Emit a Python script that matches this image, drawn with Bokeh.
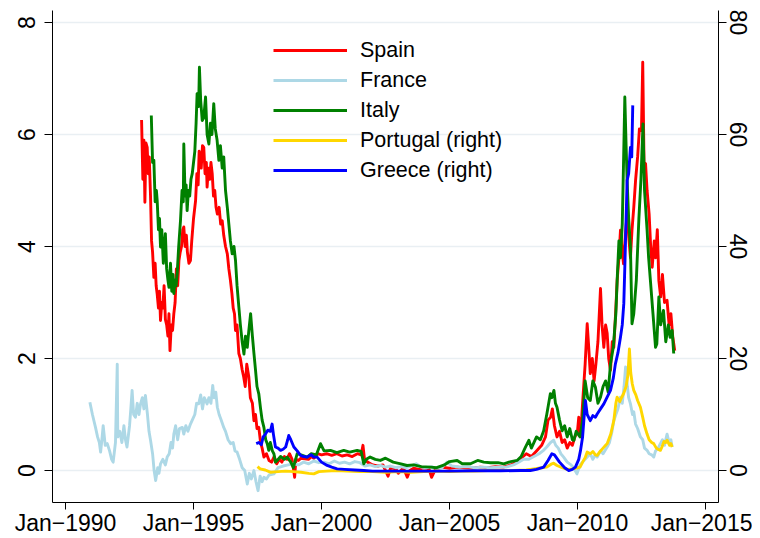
from bokeh.plotting import figure
from bokeh.models import Range1d, LinearAxis, FixedTicker, Legend, LegendItem, ColumnDataSource
from bokeh.embed import file_html
from bokeh.resources import INLINE

# ---- data (decimal years, values) ----
spain_t = [1992.97,1993.02,1993.06,1993.10,1993.14,1993.19,1993.23,1993.27,1993.32,1993.36,1993.40,1993.45,1993.50,1993.54,1993.58,1993.63,1993.67,1993.71,1993.76,1993.80,1993.85,1993.90,1993.95,1994.00,1994.04,1994.08,1994.13,1994.18,1994.23,1994.28,1994.33,1994.38,1994.43,1994.48,1994.53,1994.58,1994.62,1994.67,1994.72,1994.76,1994.82,1994.88,1994.93,1995.00,1995.08,1995.13,1995.18,1995.22,1995.25,1995.30,1995.35,1995.40,1995.45,1995.50,1995.53,1995.58,1995.63,1995.68,1995.73,1995.78,1995.83,1995.88,1995.93,1996.00,1996.06,1996.12,1996.18,1996.25,1996.32,1996.38,1996.44,1996.50,1996.55,1996.60,1996.64,1996.70,1996.77,1996.83,1996.90,1996.96,1997.02,1997.08,1997.16,1997.22,1997.30,1997.36,1997.42,1997.48,1997.55,1997.62,1997.68,1997.75,1997.85,1997.95,1998.05,1998.15,1998.25,1998.35,1998.45,1998.55,1998.65,1998.75,1998.85,1998.95,1999.00,1999.10,1999.20,1999.35,1999.50,1999.60,1999.70,1999.85,2000.00,2000.20,2000.40,2000.60,2000.80,2001.00,2001.20,2001.40,2001.55,2001.62,2001.68,2001.80,2002.00,2002.20,2002.40,2002.60,2002.70,2002.90,2003.00,2003.20,2003.35,2003.45,2003.60,2003.80,2004.00,2004.20,2004.30,2004.45,2004.70,2005.00,2005.30,2005.60,2005.90,2006.20,2006.50,2006.80,2007.10,2007.40,2007.60,2007.80,2008.00,2008.20,2008.40,2008.60,2008.75,2008.85,2008.95,2009.02,2009.10,2009.20,2009.30,2009.40,2009.50,2009.60,2009.70,2009.80,2009.90,2010.00,2010.05,2010.12,2010.20,2010.30,2010.38,2010.44,2010.50,2010.58,2010.65,2010.72,2010.80,2010.90,2010.96,2011.03,2011.10,2011.16,2011.22,2011.29,2011.36,2011.42,2011.50,2011.55,2011.62,2011.68,2011.75,2011.80,2011.87,2011.94,2012.00,2012.07,2012.13,2012.20,2012.27,2012.35,2012.42,2012.50,2012.55,2012.60,2012.66,2012.72,2012.80,2012.86,2012.92,2013.00,2013.05,2013.12,2013.18,2013.25,2013.32,2013.40,2013.50,2013.58,2013.65,2013.72,2013.80]
spain_v = [6.26,5.2,5.9,4.79,5.85,5.77,5.3,5.6,4.9,4.1,3.9,3.45,3.7,3.3,3.15,2.9,3.2,2.68,3.0,2.9,3.3,2.7,2.6,2.4,2.8,2.14,2.6,2.5,2.8,3.0,3.6,3.3,3.75,3.9,4.0,4.3,4.35,4.0,4.2,3.9,3.7,3.75,4.1,4.5,4.82,5.3,5.1,5.7,5.65,5.4,5.8,5.77,5.3,5.5,5.06,5.4,5.2,5.5,5.3,4.9,5.0,4.7,4.58,4.7,4.4,4.46,4.2,4.0,3.87,3.6,3.4,3.16,2.9,2.8,2.5,2.6,2.09,2.0,1.8,1.67,1.5,1.9,1.67,1.3,1.2,0.89,1.0,0.75,0.77,0.5,0.4,0.24,0.3,0.18,0.15,0.25,0.12,0.2,0.15,0.25,0.2,0.3,0.2,-0.12,0.2,0.18,0.22,0.21,0.2,0.25,0.22,0.3,0.28,0.3,0.27,0.3,0.26,0.28,0.25,0.3,0.28,0.45,0.2,0.15,0.1,0.08,0.1,-0.1,0.05,0.03,-0.05,0.05,-0.12,0.0,0.04,0.02,0.05,0.03,-0.12,0.02,0.06,0.04,0.06,0.05,0.04,0.06,0.05,0.07,0.06,0.1,0.15,0.22,0.3,0.25,0.35,0.45,0.6,0.9,0.95,1.1,0.8,0.6,0.7,0.5,0.55,0.4,0.5,0.45,0.6,0.7,0.95,0.6,1.2,1.9,2.62,2.2,1.73,2.0,1.6,1.9,2.3,3.25,2.6,2.2,2.6,2.45,2.0,1.79,2.3,2.2,2.9,3.39,3.8,4.29,3.9,3.69,4.2,4.58,4.2,3.8,4.29,4.7,5.18,5.6,6.1,6.07,7.29,5.5,5.48,5.0,4.58,4.0,3.63,4.1,3.8,4.3,3.39,3.1,3.5,3.0,3.04,2.6,2.8,2.4,2.14]

france_t = [1990.95,1991.05,1991.17,1991.25,1991.32,1991.37,1991.42,1991.47,1991.55,1991.63,1991.72,1991.80,1991.86,1991.95,1992.02,1992.04,1992.12,1992.20,1992.28,1992.34,1992.40,1992.50,1992.55,1992.60,1992.66,1992.73,1992.80,1992.87,1992.93,1993.00,1993.06,1993.12,1993.20,1993.26,1993.32,1993.40,1993.46,1993.52,1993.60,1993.65,1993.71,1993.80,1993.90,1993.97,1994.05,1994.12,1994.18,1994.23,1994.30,1994.38,1994.45,1994.56,1994.62,1994.70,1994.78,1994.88,1994.95,1995.05,1995.12,1995.20,1995.28,1995.35,1995.42,1995.53,1995.60,1995.68,1995.75,1995.80,1995.87,1995.93,1996.00,1996.08,1996.18,1996.25,1996.35,1996.45,1996.55,1996.62,1996.70,1996.80,1996.90,1997.00,1997.10,1997.18,1997.26,1997.36,1997.44,1997.52,1997.60,1997.68,1997.75,1997.85,1997.95,1998.14,1998.30,1998.50,1998.70,1998.90,1999.10,1999.30,1999.50,1999.70,1999.90,2000.10,2000.30,2000.50,2000.70,2000.90,2001.10,2001.30,2001.50,2001.70,2001.90,2002.10,2002.30,2002.50,2002.70,2002.90,2003.10,2003.30,2003.50,2003.70,2003.90,2004.10,2004.30,2004.50,2004.70,2004.90,2005.10,2005.40,2005.70,2006.00,2006.30,2006.60,2006.90,2007.20,2007.50,2007.70,2007.90,2008.10,2008.30,2008.50,2008.65,2008.80,2008.95,2009.07,2009.15,2009.25,2009.35,2009.46,2009.60,2009.75,2009.85,2009.98,2010.10,2010.20,2010.30,2010.38,2010.50,2010.60,2010.70,2010.77,2010.90,2011.00,2011.16,2011.25,2011.35,2011.42,2011.50,2011.58,2011.68,2011.75,2011.82,2011.88,2011.95,2012.00,2012.07,2012.15,2012.20,2012.27,2012.35,2012.46,2012.55,2012.62,2012.72,2012.80,2012.90,2012.98,2013.05,2013.15,2013.24,2013.32,2013.40,2013.50,2013.58,2013.65,2013.70]
france_v = [1.22,1.0,0.77,0.6,0.5,0.33,0.55,0.8,0.45,0.48,0.35,0.2,0.15,0.5,1.9,0.6,0.7,0.5,0.8,0.55,0.42,0.8,1.1,1.43,1.0,0.95,1.2,1.0,1.19,1.3,1.1,1.34,1.0,0.7,0.54,0.3,0.0,-0.18,0.05,-0.05,0.12,0.2,0.1,0.24,0.3,0.5,0.4,0.65,0.8,0.55,0.75,0.77,0.65,0.8,0.7,0.83,0.9,1.0,1.2,1.19,1.35,1.1,1.3,1.19,1.3,1.2,1.52,1.3,1.4,1.13,1.0,0.9,0.77,0.7,0.55,0.48,0.5,0.35,0.33,0.2,0.05,0.0,-0.24,-0.05,-0.15,0.0,-0.2,-0.36,-0.1,-0.2,-0.12,-0.15,-0.08,-0.06,0.05,0.08,0.1,0.12,0.1,0.15,0.12,0.17,0.14,0.15,0.12,0.17,0.13,0.15,0.12,0.16,0.14,0.08,0.1,0.07,0.09,0.06,0.08,0.05,0.07,0.05,0.08,0.12,0.06,0.05,0.07,0.04,0.05,0.15,0.08,0.06,0.07,0.05,0.06,0.05,0.06,0.06,0.1,0.15,0.2,0.2,0.25,0.3,0.35,0.42,0.5,0.54,0.45,0.4,0.3,0.24,0.15,0.1,0.05,-0.06,0.1,0.15,0.2,0.24,0.3,0.2,0.28,0.24,0.35,0.3,0.42,0.5,0.7,0.89,1.0,1.1,1.31,1.2,1.5,1.85,1.5,1.3,1.19,1.0,1.05,0.83,0.75,0.6,0.55,0.4,0.36,0.3,0.28,0.24,0.35,0.4,0.48,0.55,0.45,0.65,0.5,0.55,0.42]

italy_t = [1993.35,1993.40,1993.45,1993.50,1993.55,1993.58,1993.63,1993.67,1993.71,1993.76,1993.82,1993.86,1993.90,1993.95,1994.00,1994.04,1994.10,1994.15,1994.20,1994.23,1994.28,1994.32,1994.36,1994.42,1994.49,1994.55,1994.60,1994.62,1994.67,1994.71,1994.75,1994.80,1994.85,1994.90,1994.95,1995.00,1995.05,1995.10,1995.14,1995.20,1995.23,1995.28,1995.34,1995.40,1995.47,1995.53,1995.60,1995.66,1995.72,1995.79,1995.85,1995.92,1995.99,1996.05,1996.12,1996.18,1996.25,1996.32,1996.38,1996.44,1996.51,1996.58,1996.64,1996.70,1996.77,1996.83,1996.90,1996.97,1997.03,1997.10,1997.16,1997.23,1997.30,1997.36,1997.42,1997.48,1997.55,1997.62,1997.68,1997.75,1997.82,1997.88,1997.94,1998.00,1998.08,1998.14,1998.20,1998.27,1998.40,1998.55,1998.66,1998.80,1998.90,1999.05,1999.20,1999.44,1999.60,1999.80,1999.96,2000.10,2000.35,2000.60,2000.87,2001.10,2001.39,2001.55,2001.65,2001.75,2001.90,2002.10,2002.30,2002.50,2002.80,2003.10,2003.34,2003.60,2003.90,2004.26,2004.50,2004.80,2005.00,2005.30,2005.50,2005.82,2006.10,2006.34,2006.60,2006.90,2007.12,2007.40,2007.64,2007.80,2007.95,2008.10,2008.20,2008.40,2008.55,2008.68,2008.80,2008.94,2009.00,2009.08,2009.14,2009.20,2009.30,2009.40,2009.50,2009.60,2009.70,2009.80,2009.86,2009.95,2010.10,2010.20,2010.30,2010.40,2010.50,2010.60,2010.70,2010.80,2010.90,2011.00,2011.10,2011.20,2011.29,2011.40,2011.50,2011.56,2011.62,2011.68,2011.75,2011.80,2011.85,2011.90,2011.94,2012.00,2012.07,2012.13,2012.20,2012.30,2012.40,2012.48,2012.56,2012.62,2012.72,2012.78,2012.85,2012.95,2013.05,2013.10,2013.18,2013.25,2013.36,2013.45,2013.55,2013.62,2013.70,2013.76]
italy_v = [6.34,5.5,5.54,4.8,5.0,4.82,4.3,4.5,3.99,4.3,3.7,4.0,4.23,3.6,3.4,3.27,3.7,3.2,3.5,3.16,3.4,3.3,3.51,4.0,4.46,5.0,4.8,5.83,4.9,5.1,4.64,5.0,4.9,5.2,5.3,5.5,5.7,6.2,6.73,6.5,7.2,6.6,6.25,6.3,6.67,6.0,5.83,6.2,6.0,6.55,6.1,5.9,5.54,5.8,5.4,5.6,5.0,4.7,4.4,4.1,3.87,4.0,3.75,3.3,2.92,2.6,2.3,2.08,2.4,2.2,2.5,2.8,2.4,2.09,1.8,1.5,1.37,1.1,0.9,0.77,0.55,0.48,0.36,0.5,0.35,0.3,0.15,0.18,0.25,0.2,0.24,0.15,0.05,0.3,0.28,0.24,0.3,0.28,0.48,0.35,0.36,0.32,0.36,0.33,0.36,0.34,0.12,0.2,0.24,0.2,0.18,0.22,0.15,0.12,0.09,0.1,0.07,0.06,0.05,0.1,0.16,0.18,0.12,0.12,0.18,0.15,0.14,0.14,0.12,0.16,0.18,0.25,0.4,0.54,0.4,0.6,0.55,0.71,1.0,1.37,1.3,1.43,1.2,1.13,0.9,0.71,0.8,0.6,0.75,0.55,0.54,0.7,0.6,0.9,1.6,1.3,1.25,1.6,1.49,1.2,1.31,1.5,1.6,1.4,1.9,2.2,2.8,3.5,4.1,3.8,4.4,5.5,6.67,5.8,5.18,4.5,3.99,2.62,2.8,3.4,4.5,5.2,6.19,5.0,4.29,3.8,3.39,2.8,2.2,2.26,3.1,2.6,2.86,2.3,2.6,2.38,2.5,2.09]

portugal_t = [1997.50,1997.60,1997.80,1998.00,1998.30,1998.60,1998.90,1999.20,1999.50,1999.70,1999.90,2000.20,2000.60,2001.00,2001.50,2002.00,2002.50,2003.00,2003.50,2004.00,2004.50,2005.00,2005.50,2006.00,2006.50,2007.00,2007.50,2008.00,2008.30,2008.60,2008.80,2009.00,2009.07,2009.20,2009.40,2009.60,2009.80,2010.00,2010.10,2010.20,2010.30,2010.38,2010.50,2010.60,2010.70,2010.77,2010.90,2011.00,2011.10,2011.16,2011.30,2011.42,2011.50,2011.55,2011.65,2011.72,2011.80,2011.90,2011.97,2012.03,2012.08,2012.14,2012.20,2012.28,2012.35,2012.46,2012.55,2012.62,2012.72,2012.80,2012.90,2012.98,2013.08,2013.15,2013.24,2013.30,2013.38,2013.45,2013.50,2013.60,2013.65,2013.70]
portugal_v = [0.7,0.3,0.1,-0.3,-0.2,-0.1,-0.2,-0.3,-0.5,-0.6,-0.2,-0.1,0.0,-0.1,-0.2,-0.2,-0.3,-0.2,-0.3,-0.2,-0.1,-0.2,-0.1,-0.1,0.0,0.0,0.0,0.1,0.3,0.5,0.6,1.2,1.3,0.9,0.5,0.2,0.3,0.5,0.6,1.5,2.3,3.3,3.0,3.4,2.8,2.7,3.5,4.0,4.5,4.8,6.5,8.9,12.0,13.1,12.3,13.0,13.7,15.0,17.0,21.7,17.5,15.5,14.3,13.5,12.5,11.3,9.5,8.0,6.5,5.5,5.0,4.8,4.0,3.8,3.6,4.2,5.2,5.0,5.4,4.5,4.8,4.2]

greece_t = [1997.45,1997.55,1997.65,1997.72,1997.81,1997.90,1998.00,1998.07,1998.12,1998.20,1998.30,1998.40,1998.50,1998.60,1998.68,1998.72,1998.80,1998.92,1999.05,1999.18,1999.30,1999.44,1999.60,1999.70,1999.83,2000.00,2000.22,2000.40,2000.61,2000.90,2001.30,2001.65,2002.00,2003.00,2004.00,2005.00,2006.00,2007.00,2007.80,2008.16,2008.40,2008.68,2008.85,2009.00,2009.10,2009.30,2009.50,2009.66,2009.80,2009.92,2010.05,2010.12,2010.20,2010.25,2010.31,2010.38,2010.50,2010.60,2010.70,2010.77,2010.90,2011.03,2011.15,2011.29,2011.40,2011.48,2011.58,2011.68,2011.75,2011.81,2011.86,2011.90,2011.94,2012.00,2012.07,2012.12,2012.16]
greece_v = [4.8,5.0,4.6,6.0,6.5,7.2,7.0,8.3,6.5,4.2,4.0,3.6,3.8,4.2,5.5,6.25,5.5,4.2,3.5,2.7,2.5,2.4,2.8,2.4,2.4,1.5,0.9,0.6,0.3,0.2,0.1,0.0,-0.1,-0.1,-0.1,-0.1,-0.05,-0.05,0.0,0.0,0.2,0.6,1.8,3.0,2.8,1.5,0.5,0.0,0.2,0.6,2.0,3.6,6.0,9.0,12.5,10.0,8.9,9.8,9.5,10.1,11.0,11.9,13.0,14.3,16.5,19.0,21.0,23.8,26.0,29.8,38.0,45.0,51.8,53.0,57.7,56.0,65.2]

x_ticks = [1990, 1995, 2000, 2005, 2010, 2015]
x_labels = ["Jan\u22121990", "Jan\u22121995", "Jan\u22122000", "Jan\u22122005", "Jan\u22122010", "Jan\u22122015"]
left_ticks = [0, 2, 4, 6, 8]
right_ticks = [0, 20, 40, 60, 80]

FONT = "Liberation Sans"

p = figure(frame_width=666, frame_height=492,
           x_range=Range1d(1989.49, 2015.51), y_range=Range1d(-0.571, 8.214),
           output_backend="svg", toolbar_location=None,
           min_border_left=52, min_border_right=34, min_border_top=10, min_border_bottom=26)
p.extra_y_ranges = {"right": Range1d(-5.71, 82.14)}
p.outline_line_color = None
p.background_fill_color = "white"
p.border_fill_color = "white"

p.xgrid.visible = False
p.ygrid.ticker = FixedTicker(ticks=left_ticks)
p.ygrid.grid_line_color = "#e9eff3"
p.ygrid.grid_line_width = 1.5

raxis = LinearAxis(y_range_name="right")
p.add_layout(raxis, "right")

for ax in [p.xaxis[0], p.yaxis[0], raxis]:
    ax.axis_line_color = "black"
    ax.axis_line_width = 1
    ax.major_tick_line_color = "black"
    ax.major_tick_out = 8
    ax.major_tick_in = 0
    ax.minor_tick_line_color = None
    ax.major_label_text_font = FONT
    ax.major_label_text_font_size = "23px"
    ax.major_label_text_color = "black"

p.xaxis[0].ticker = FixedTicker(ticks=x_ticks)
p.xaxis[0].major_label_overrides = {t: l for t, l in zip(x_ticks, x_labels)}
p.xaxis[0].major_tick_out = 7
p.xaxis[0].major_label_standoff = 0
p.yaxis[0].ticker = FixedTicker(ticks=left_ticks)
p.yaxis[0].major_label_orientation = "vertical"
p.yaxis[0].major_label_standoff = 9
raxis.ticker = FixedTicker(ticks=right_ticks)
raxis.major_label_orientation = "vertical"
raxis.major_label_standoff = 3

series = [
    ("Spain", spain_t, spain_v, "#ff0000", "default"),
    ("France", france_t, france_v, "#add8e6", "default"),
    ("Italy", italy_t, italy_v, "#008000", "default"),
    ("Portugal (right)", portugal_t, portugal_v, "#ffd700", "right"),
    ("Greece (right)", greece_t, greece_v, "#0000ff", "right"),
]
items = []
for name, t, v, col, rng in series:
    src = ColumnDataSource(dict(x=t, y=v))
    r = p.line("x", "y", source=src, line_color=col, line_width=2.9,
               line_join="round", y_range_name=rng)
    items.append(LegendItem(label=name, renderers=[r]))

legend = Legend(items=items, location=(221, 319))
legend.label_text_font = FONT
legend.label_text_font_size = "21.5px"
legend.label_text_color = "black"
legend.glyph_width = 74
legend.glyph_height = 26
legend.label_height = 26
legend.label_standoff = 13
legend.spacing = 4
legend.padding = 0
legend.margin = 0
legend.border_line_alpha = 0
legend.background_fill_alpha = 0
p.add_layout(legend)

open("out.html", "w").write(file_html(p, INLINE))
